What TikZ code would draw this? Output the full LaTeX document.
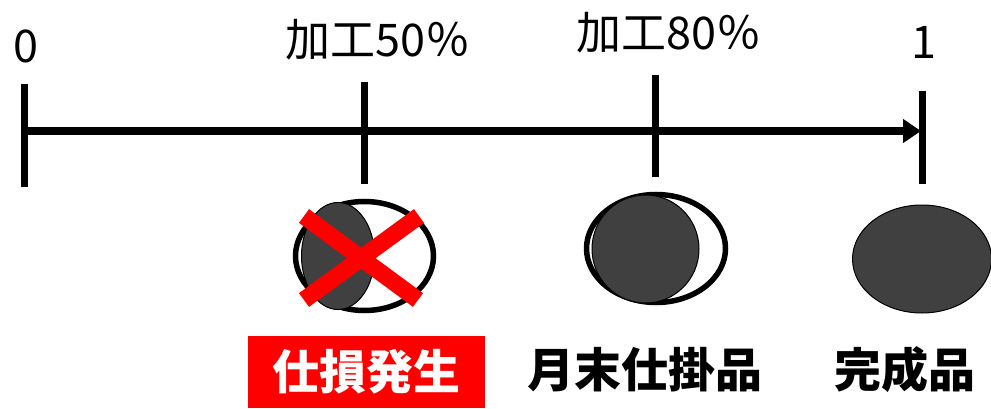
\documentclass[tikz,border=0pt]{standalone}
\usepackage{fontspec}
\newfontfamily\jp{Noto Sans CJK JP}
\usetikzlibrary{arrows.meta,shapes.geometric}
\definecolor{ballgray}{HTML}{404040}
\definecolor{xred}{HTML}{FF0000}
\begin{document}
\begin{tikzpicture}[x=1pt,y=-1pt,
  tickline/.style={line width=7pt},
  axisline/.style={line width=8pt,-{Triangle[length=18pt,width=23pt]}},
  toplabel/.style={font=\jp\fontsize{45}{52}\selectfont, inner sep=0pt},
  botlabel/.style={font=\jp\bfseries\fontsize{47}{54}\selectfont, inner sep=0pt},
  ring/.style={ellipse, draw=black, line width=5.5pt, fill=white, inner sep=0pt},
  ball/.style={ellipse, draw=black, line width=1pt, fill=ballgray, inner sep=0pt},
  crossline/.style={draw=xred, line width=17pt},
]
\useasboundingbox (0,0) rectangle (991,409);

% axis and ticks
\coordinate (a0) at (24,131);
\coordinate (a1) at (921,131);
\coordinate (t0a) at (24,84);   \coordinate (t0b) at (24,187);
\coordinate (t5a) at (364,82);  \coordinate (t5b) at (364,184);
\coordinate (t8a) at (655,75);  \coordinate (t8b) at (655,177);
\coordinate (t1a) at (922,91);  \coordinate (t1b) at (922,184);
\draw[axisline] (a0) -- (a1);
\draw[tickline] (t0a) -- (t0b);
\draw[tickline] (t5a) -- (t5b);
\draw[tickline] (t8a) -- (t8b);
\draw[tickline] (t1a) -- (t1b);

% top labels
\node[toplabel] (l0) at (25.5,46) {0};
\node[toplabel] (l50) at (378,40) {加工50％};
\node[toplabel] (l80) at (669,33) {加工80％};
\node[toplabel] (l1) at (924,42) {1};

% objects
\node[ring, minimum width=138pt, minimum height=109pt] (r1) at (364.5,256) {};
\node[ball, minimum width=73pt, minimum height=107pt] (b1) at (338,256) {};
\node[ring, minimum width=139pt, minimum height=108pt] (r2) at (656,248.5) {};
\node[ball, minimum width=107pt, minimum height=108pt] (b2) at (645.5,249) {};
\node[ball, minimum width=139pt, minimum height=108pt] (b3) at (922,259) {};

% red cross
\coordinate (xa1) at (304,216); \coordinate (xa2) at (418,300);
\coordinate (xb1) at (419,216); \coordinate (xb2) at (304,300);
\draw[crossline] (xa1) -- (xa2);
\draw[crossline] (xb1) -- (xb2);

% bottom labels
\node[botlabel, fill=xred, text=white, minimum width=237pt, minimum height=72pt] (lb1) at (366.5,372) {仕損発生};
\node[botlabel] (lb2) at (645,370) {月末仕掛品};
\node[botlabel] (lb3) at (905,370) {完成品};
\end{tikzpicture}
\end{document}
